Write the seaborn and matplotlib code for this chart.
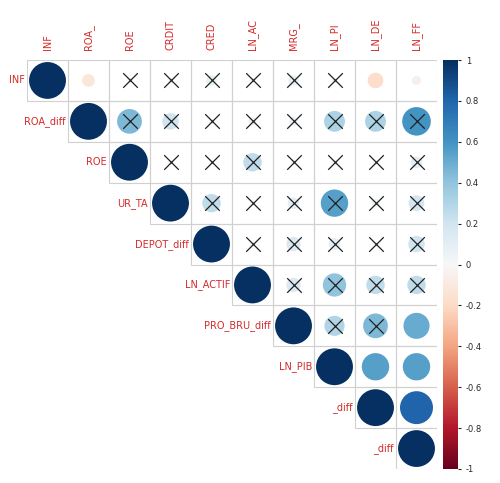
import numpy as np
import pandas as pd
import seaborn as sns
import matplotlib.pyplot as plt
from matplotlib.patches import Circle, Rectangle
import matplotlib as mpl

sns.set_style('white')

col_labels = ['INF', 'ROA_', 'ROE', 'CRDIT', 'CRED', 'LN_AC', 'MRG_', 'LN_PI', 'LN_DE', 'LN_FF']
row_labels = ['INF', 'ROA_diff', 'ROE', 'UR_TA', 'DEPOT_diff', 'LN_ACTIF', 'PRO_BRU_diff', 'LN_PIB', '_diff', '_diff']

# upper triangle correlations, row by row (starting at the diagonal)
upper = [
    [1, -0.12, 0.02, 0.02, 0.08, 0.02, 0.08, 0.02, -0.18, -0.06],
    [1, 0.45, 0.2, 0.02, 0.05, 0.06, 0.32, 0.32, 0.6],
    [1, 0.02, 0.02, 0.25, 0.02, 0.02, 0.02, 0.1],
    [1, 0.25, 0.02, 0.1, 0.55, 0.05, 0.18],
    [1, 0.02, 0.15, 0.1, 0.02, 0.2],
    [1, 0.15, 0.4, 0.25, 0.25],
    [1, 0.3, 0.45, 0.5],
    [1, 0.55, 0.55],
    [1, 0.8],
    [1],
]
# cells without a cross (significant)
significant = [(0, 1), (0, 8), (0, 9), (6, 9), (7, 8), (7, 9), (8, 9)]

n = len(col_labels)
cmap = sns.color_palette('RdBu', as_cmap=True)
norm = mpl.colors.Normalize(-1, 1)

fig = plt.figure(figsize=(5, 4.83), dpi=100)
ax = fig.add_axes([27 / 500, 14 / 483, 410 / 500, 409 / 483])

crosses = []
for i, row in enumerate(upper):
    for k, r in enumerate(row):
        j = i + k
        ax.add_patch(Rectangle((j, i), 1, 1, fill=False, ec='#d0d0d0', lw=0.8))
        ax.add_patch(Circle((j + 0.5, i + 0.5), 0.45 * np.sqrt(abs(r)),
                            color=cmap(norm(r)), lw=0))
        if i != j and (i, j) not in significant:
            crosses.append((j + 0.5, i + 0.5))

cdf = pd.DataFrame(crosses, columns=['x', 'y'])
sns.scatterplot(data=cdf, x='x', y='y', marker='x', s=110, color='#222222',
                linewidth=0.9, ax=ax, zorder=5)
ax.axis('off')
ax.set_xlim(0, n)
ax.set_ylim(n, 0)

red = '#d42a2a'
for i, lab in enumerate(row_labels):
    ax.text(i - 0.05, i + 0.5, lab, ha='right', va='center', color=red, fontsize=7)
for j, lab in enumerate(col_labels):
    ax.text(j + 0.5, -0.25, lab, ha='center', va='bottom', rotation=90, color=red, fontsize=7)

cax = fig.add_axes([443 / 500, 14 / 483, 15 / 500, 409 / 483])
cb = mpl.colorbar.ColorbarBase(cax, cmap=cmap, norm=norm, ticks=np.arange(-1, 1.01, 0.2))
cb.ax.set_yticklabels(['-1', '-0.8', '-0.6', '-0.4', '-0.2', '0', '0.2', '0.4', '0.6', '0.8', '1'])
cb.ax.tick_params(labelsize=6, length=2)
cb.outline.set_visible(False)

fig.savefig('out.png', dpi=100)
